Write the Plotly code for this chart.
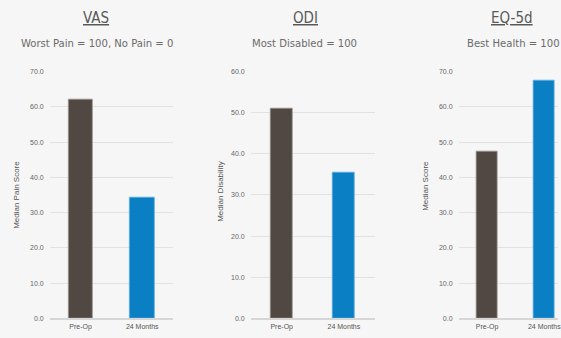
import plotly.graph_objects as go

# Median outcome scores before surgery and at 24 months
categories = ["Pre-Op", "24 Months"]
vas_values = [62.2, 34.2]
odi_values = [50.9, 35.4]
eq5d_values = [47.4, 67.4]

panel_titles = ["VAS", "ODI", "EQ-5d"]
panel_subtitles = ["Worst Pain = 100, No Pain = 0", "Most Disabled = 100", "Best Health = 100"]
axis_titles = ["Median Pain Score", "Median Disability", "Median Score"]
y_ticks_70 = [0, 10, 20, 30, 40, 50, 60, 70]
y_ticks_60 = [0, 10, 20, 30, 40, 50, 60]

W, H = 561, 338
BG = "#f6f6f6"
BAR_COLORS = ["#514843", "#0a7fc4"]
BAR_LINES = ["#9a9390", "#5fb0e0"]
TITLE_FONT = "DejaVu Sans Condensed, DejaVu Sans, sans-serif"
TICK_FONT = "Liberation Sans, Arial, sans-serif"

fig = go.Figure()

panels = [
    dict(values=vas_values, x0=50, x1=174, width=0.39, yr=[0, 70], ticks=y_ticks_70, xr=[-0.5, 1.5]),
    dict(values=odi_values, x0=252, x1=377, width=0.36, yr=[0, 60], ticks=y_ticks_60, xr=[-0.5, 1.5]),
    dict(values=eq5d_values, x0=461, x1=561, width=0.365, yr=[0, 70], ticks=y_ticks_70,
         xr=[-0.5, -0.5 + 2 * 100 / 115]),
]

y_dom = [(H - 321) / H, (H - 69) / H]

for i, p in enumerate(panels):
    n = "" if i == 0 else str(i + 1)
    fig.add_trace(go.Bar(
        x=categories, y=p["values"], xaxis="x" + n, yaxis="y" + n,
        width=p["width"],
        marker=dict(color=BAR_COLORS, line=dict(color=BAR_LINES, width=0.8)),
        showlegend=False, hoverinfo="skip",
    ))
    fig.layout["xaxis" + n] = dict(
        domain=[p["x0"] / W, p["x1"] / W], anchor="y" + n, range=p["xr"],
        showgrid=False, showline=True, linecolor="#d6d6d6", linewidth=1.5,
        ticks="", tickfont=dict(family=TICK_FONT, size=7, color="#555555"),
        fixedrange=True, type="category",
    )
    fig.layout["yaxis" + n] = dict(
        domain=y_dom, anchor="x" + n, range=p["yr"],
        tickvals=p["ticks"], ticktext=[f"{t:.1f}" for t in p["ticks"]],
        showgrid=True, gridcolor="#e2e2e2", gridwidth=1, zeroline=False,
        ticks="", ticklabelstandoff=5,
        tickfont=dict(family=TICK_FONT, size=7, color="#666666"),
        fixedrange=True,
    )

title_x = [97, 307, 515]
sub_x = [98, 306, 468]
ytitle_pos = [(17, 195), (221, 192), (427, 186)]

for i in range(3):
    fig.add_annotation(
        text=f"<u>{panel_titles[i]}</u>", x=title_x[i] / W, y=1 - 14 / H,
        xref="paper", yref="paper", showarrow=False, xanchor="center", yanchor="middle",
        font=dict(family=TITLE_FONT, size=15, color="#595959"),
    )
    fig.add_annotation(
        text=panel_subtitles[i], x=(sub_x[i] / W), y=1 - 40 / H,
        xref="paper", yref="paper", showarrow=False,
        xanchor="left" if i == 2 else "center", yanchor="middle",
        font=dict(family=TITLE_FONT, size=11.2, color="#6b6b6b"),
    )
    fig.add_annotation(
        text=axis_titles[i], x=ytitle_pos[i][0] / W, y=1 - ytitle_pos[i][1] / H,
        xref="paper", yref="paper", showarrow=False, textangle=-90,
        xanchor="center", yanchor="middle",
        font=dict(family=TICK_FONT, size=8, color="#555555"),
    )

fig.update_layout(
    width=W, height=H, margin=dict(l=0, r=0, t=0, b=0),
    paper_bgcolor=BG, plot_bgcolor=BG, bargap=0,
)

fig.write_html("out.html", config={"displayModeBar": False})
